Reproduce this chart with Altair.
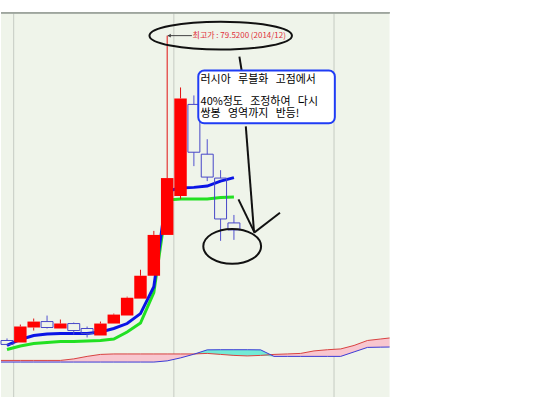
import altair as alt
import pandas as pd

# ---- candle data (monthly, 2013/12 .. 2015/05) ----
months = ["2013/12", "2014/01", "2014/02", "2014/03", "2014/04", "2014/05", "2014/06",
          "2014/07", "2014/08", "2014/09", "2014/10", "2014/11", "2014/12", "2015/01",
          "2015/02", "2015/03", "2015/04", "2015/05"]
idx = list(range(18))
opens = [33.29, 32.99, 35.26, 36.16, 35.11, 35.86, 35.11, 34.05, 35.86, 37.07, 39.64, 43.11,
         49.30, 55.20, 69.09, 61.54, 57.92, 51.12]
highs = [33.60, 35.71, 36.62, 37.07, 36.47, 36.01, 35.41, 36.16, 37.37, 39.94, 44.02, 49.91,
         79.52, 71.66, 70.45, 63.81, 59.12, 52.33]
lows = [32.54, 32.99, 34.80, 35.11, 35.11, 34.20, 33.75, 34.05, 35.86, 37.07, 39.64, 43.11,
        49.30, 54.74, 59.73, 57.46, 48.40, 48.55]
closes = [32.69, 35.41, 36.16, 35.26, 35.86, 34.80, 34.35, 35.86, 37.22, 39.79, 43.11, 49.30,
          57.92, 70.00, 61.84, 58.07, 51.72, 50.06]

# ---- moving averages ----
ma_short = [32.54, 33.44, 34.05, 34.27, 34.35, 34.35, 34.35, 34.58, 35.11, 35.86, 37.37, 41.45,
            55.95, 56.40, 56.51, 56.71, 57.46, 57.99]
ma_long = [31.93, 32.46, 32.84, 32.99, 33.14, 33.14, 33.22, 33.29, 33.52, 34.58, 35.94, 40.54,
           54.59, 54.74, 54.74, 54.74, 54.97, 55.05]

# ---- cloud (leading spans), index -1 .. 29 ----
cloud_idx = list(range(-1, 30))
span_a = [30.27, 30.27, 30.27, 30.27, 30.27, 30.27, 30.50, 30.88, 31.18, 31.25, 31.25, 31.25,
          31.25, 31.25, 31.25, 31.25, 31.33, 31.18, 31.03, 30.95, 31.03, 31.18, 31.25, 31.33,
          31.71, 31.89, 32.01, 32.54, 33.29, 33.52, 33.75]
span_b = [30.02, 30.02, 30.02, 30.02, 30.02, 30.02, 30.02, 30.02, 30.02, 30.02, 30.02, 30.02,
          30.02, 30.20, 30.65, 31.21, 31.87, 31.89, 31.89, 31.89, 31.87, 30.88, 30.88, 30.88,
          30.88, 30.88, 30.88, 31.56, 32.24, 32.28, 32.31]

year_bounds = [0.5, 12.5, 24.5]

peak_label = "최고가 : 79.5200 (2014/12)"
box_line1 = "러시아\u00a0\u00a0\u00a0루블화\u00a0\u00a0\u00a0고점에서"
box_lines23 = ["40%정도\u00a0\u00a0\u00a0조정하여\u00a0\u00a0\u00a0다시",
               "쌍봉\u00a0\u00a0\u00a0영역까지\u00a0\u00a0\u00a0반등!"]

# ---- tables ----
c = pd.DataFrame({"i": idx, "month": months, "open": opens, "high": highs,
                  "low": lows, "close": closes})
c["top"] = c[["open", "close"]].max(axis=1)
c["bot"] = c[["open", "close"]].min(axis=1)
c["up"] = c["close"] >= c["open"]
up = c[c["up"]]
dn = c[~c["up"]]

ma = pd.DataFrame({"i": idx, "short": ma_short, "long": ma_long})
cl = pd.DataFrame({"i": cloud_idx, "a": span_a, "b": span_b})
cl["lo"] = cl[["a", "b"]].min(axis=1)
yb = pd.DataFrame({"i": year_bounds})

xs = alt.Scale(domain=[-0.45, 28.66], nice=False, zero=False, padding=0)
ys = alt.Scale(domain=[24.68, 83.0], nice=False, zero=False, padding=0)


def X(f):
    return alt.X(f, type="quantitative", scale=xs, axis=None)


def Y(f):
    return alt.Y(f, type="quantitative", scale=ys, axis=None)


grid = alt.Chart(yb).mark_rule(color="#c6cbc3", strokeWidth=1).encode(x=X("i"))
top_border = alt.Chart(yb).mark_rule(color="#9ea59e", strokeWidth=1.5).encode(
    x=alt.value(0), x2=alt.value(390), y=alt.value(0))

pink = alt.Chart(cl).mark_area(color="#f8c6cf", clip=True, opacity=1).encode(
    x=X("i"), y=Y("a"), y2="lo")
teal = alt.Chart(cl).mark_area(color="#72ead6", clip=True, opacity=1).encode(
    x=X("i"), y=Y("b"), y2="lo")
line_a = alt.Chart(cl).mark_line(color="#d8403f", strokeWidth=1, clip=True).encode(
    x=X("i"), y=Y("a"))
line_b = alt.Chart(cl).mark_line(color="#3a3ad6", strokeWidth=1, clip=True).encode(
    x=X("i"), y=Y("b"))

ma_l = alt.Chart(ma).mark_line(color="#22e022", strokeWidth=3).encode(x=X("i"), y=Y("long"))
ma_s = alt.Chart(ma).mark_line(color="#0a14e6", strokeWidth=3).encode(x=X("i"), y=Y("short"))

wick_up_hi = alt.Chart(up).mark_rule(color="#e01010", strokeWidth=1).encode(
    x=X("i"), y=Y("top"), y2="high")
wick_up_lo = alt.Chart(up).mark_rule(color="#e01010", strokeWidth=1).encode(
    x=X("i"), y=Y("low"), y2="bot")
wick_dn_hi = alt.Chart(dn).mark_rule(color="#5050d0", strokeWidth=1).encode(
    x=X("i"), y=Y("top"), y2="high")
wick_dn_lo = alt.Chart(dn).mark_rule(color="#5050d0", strokeWidth=1).encode(
    x=X("i"), y=Y("low"), y2="bot")
body_up = alt.Chart(up).mark_bar(color="#ff0000", size=12.5).encode(
    x=X("i"), y=Y("open"), y2="close")
body_dn = alt.Chart(dn).mark_bar(fill="#ffffff", fillOpacity=0, stroke="#4646c8",
                                 strokeWidth=1, size=12).encode(
    x=X("i"), y=Y("open"), y2="close")

# ---- annotations ----
peak_line = alt.Chart(pd.DataFrame({"i": [12.05], "i2": [13.85], "p": [79.52]})).mark_rule(
    color="#404040", strokeWidth=1).encode(x=X("i"), x2="i2", y=Y("p"))
peak_head = alt.Chart(pd.DataFrame({"i": [12.15], "p": [79.52]})).mark_point(
    shape="triangle-left", filled=True, color="#404040", size=14, opacity=1).encode(
    x=X("i"), y=Y("p"))
peak_text = alt.Chart(pd.DataFrame({"i": [13.9], "p": [79.52], "t": [peak_label]})).mark_text(
    align="left", baseline="middle", font="Noto Sans CJK KR", fontSize=8,
    color="#e0303a").encode(x=X("i"), y=Y("p"), text="t")

ell_top_path = ("M-1,0C-1,-0.108,-0.552,-0.196,0,-0.196C0.552,-0.196,1,-0.108,1,0"
                "C1,0.108,0.552,0.196,0,0.196C-0.552,0.196,-1,0.108,-1,0Z")
ell_bot_path = ("M-1,0C-1,-0.333,-0.552,-0.603,0,-0.603C0.552,-0.603,1,-0.333,1,0"
                "C1,0.333,0.552,0.603,0,0.603C-0.552,0.603,-1,0.333,-1,0Z")
ell_top = alt.Chart(pd.DataFrame({"i": [16.01], "p": [79.52]})).mark_point(
    shape=ell_top_path, filled=False, stroke="#111111", strokeWidth=2, size=20449,
    opacity=1).encode(x=X("i"), y=Y("p"))
ell_bot = alt.Chart(pd.DataFrame({"i": [16.87], "p": [47.57]})).mark_point(
    shape=ell_bot_path, filled=False, stroke="#111111", strokeWidth=2, size=3364,
    opacity=1).encode(x=X("i"), y=Y("p"))

seg = pd.DataFrame({
    "i": [17.41, 17.89, 17.34, 18.51],
    "p": [76.34, 65.77, 54.70, 49.65],
    "i2": [17.59, 18.51, 18.51, 20.45],
    "p2": [74.08, 49.65, 49.80, 52.67],
})
segs = alt.Chart(seg).mark_rule(color="#111111", strokeWidth=2).encode(
    x=X("i"), y=Y("p"), x2="i2", y2="p2")

box = alt.Chart(pd.DataFrame({"i": [14.33], "i2": [24.56], "p": [74.23], "p2": [66.22]})).mark_rect(
    fill="#ffffff", stroke="#1f3cf5", strokeWidth=2, cornerRadius=6).encode(
    x=X("i"), x2="i2", y=Y("p"), y2="p2")
box_text1 = alt.Chart(pd.DataFrame({"i": [14.5], "p": [72.72]})).mark_text(
    align="left", baseline="middle", font="Noto Sans CJK KR", fontSize=11,
    color="#000000").encode(x=X("i"), y=Y("p"), text=alt.value(box_line1))
box_text23 = alt.Chart(pd.DataFrame({"i": [14.5], "p": [69.40]})).mark_text(
    align="left", baseline="middle", font="Noto Sans CJK KR", fontSize=11,
    lineHeight=12, color="#000000").encode(x=X("i"), y=Y("p"), text=alt.value(box_lines23))

chart = alt.layer(
    grid, top_border, pink, teal, line_a, line_b, ma_l, ma_s,
    wick_up_hi, wick_up_lo, wick_dn_hi, wick_dn_lo, body_up, body_dn,
    peak_line, peak_head, peak_text, ell_top, ell_bot, segs, box, box_text1, box_text23,
).properties(
    width=390, height=386,
    padding={"left": 0, "top": 11, "right": 155, "bottom": 0},
    background="#ffffff",
).configure_view(fill="#eff4ea", strokeWidth=0)

chart.save("out.html", embed_options={"renderer": "svg", "actions": False})
